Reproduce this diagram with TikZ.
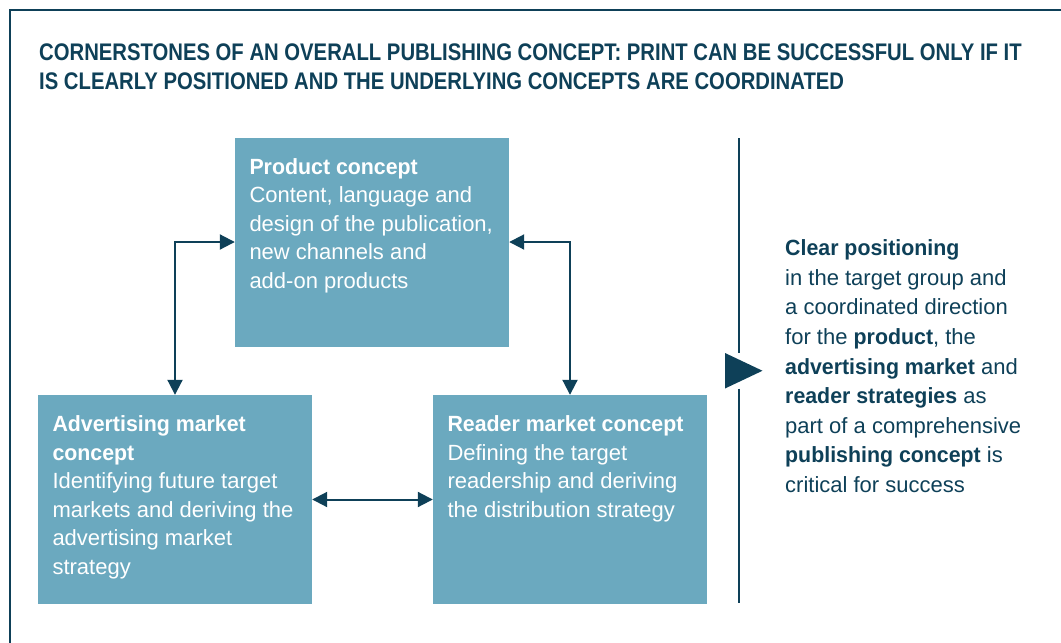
\documentclass[tikz,border=0pt]{standalone}
\usepackage{fontspec}
\setmainfont{Liberation Sans}[BoldFeatures={FakeStretch=0.97}]
\newfontfamily\titlefont{Liberation Sans}[FakeStretch=0.845]
\usetikzlibrary{arrows.meta}
\definecolor{ink}{HTML}{0E4058}
\definecolor{boxblue}{HTML}{6BA9BF}
\newcommand{\conceptbox}[1]{\parbox[c][209pt][t]{245pt}{\raggedright\vspace*{21pt}#1}}
\begin{document}
\begin{tikzpicture}[x=1pt,y=-1pt,
  concept/.style={fill=boxblue, inner sep=0pt, minimum width=274pt, minimum height=209pt,
    text=white, font=\fontsize{22}{28.5}\selectfont},
  link/.style={draw=ink, line width=2pt, {Triangle[length=15pt,width=15pt]}-{Triangle[length=15pt,width=15pt]}},
  rule/.style={draw=ink, line width=2pt}]
\useasboundingbox (0,0) rectangle (1061,643);

% outer frame (open to the right and bottom)
\draw[rule] (10,643) -- (10,10) -- (1061,10);

% heading
\node[anchor=north west, inner sep=0pt, align=left, text=ink,
      font=\titlefont\bfseries\fontsize{24}{29}\selectfont] (title) at (39,43.5)
  {CORNERSTONES OF AN OVERALL PUBLISHING CONCEPT: PRINT CAN BE SUCCESSFUL ONLY IF IT\\
   IS CLEARLY POSITIONED AND THE UNDERLYING CONCEPTS ARE COORDINATED};

% the three concepts
\node[concept] (prod) at (372,242) {\conceptbox{%
  \textbf{Product concept}\\
  Content, language and\\
  design of the publication,\\
  new channels and\\
  add-on products}};
\node[concept] (adv) at (175,499.5) {\conceptbox{%
  \textbf{Advertising market}\\
  \textbf{concept}\\
  Identifying future target\\
  markets and deriving the\\
  advertising market\\
  strategy}};
\node[concept] (reader) at (570,499.5) {\conceptbox{%
  \textbf{Reader market concept}\\
  Defining the target\\
  readership and deriving\\
  the distribution strategy}};

% mutual links
\draw[link] (prod.west) -| (adv.north);
\draw[link] (prod.east) -| (reader.north);
\draw[link] (adv.east) -- (reader.west);

% divider with pointer
\coordinate (dtop) at (739,138);
\coordinate (dgapa) at (739,353);
\coordinate (dgapb) at (739,388.5);
\coordinate (dbot) at (739,603);
\draw[rule] (dtop) -- (dgapa);
\draw[rule] (dgapb) -- (dbot);
\fill[ink] (725,353) -- (725,388.5) -- (762.5,370.75) -- cycle;

% conclusion
\node[anchor=north west, inner sep=0pt, align=left, text=ink,
      font=\fontsize{22}{29.6}\selectfont] (result) at (785,239.5)
  {\textbf{Clear positioning}\\
   in the target group and\\
   a coordinated direction\\
   for the \textbf{product}, the\\
   \textbf{advertising market} and\\
   \textbf{reader strategies} as\\
   part of a comprehensive\\
   \textbf{publishing concept} is\\
   critical for success};
\end{tikzpicture}
\end{document}
